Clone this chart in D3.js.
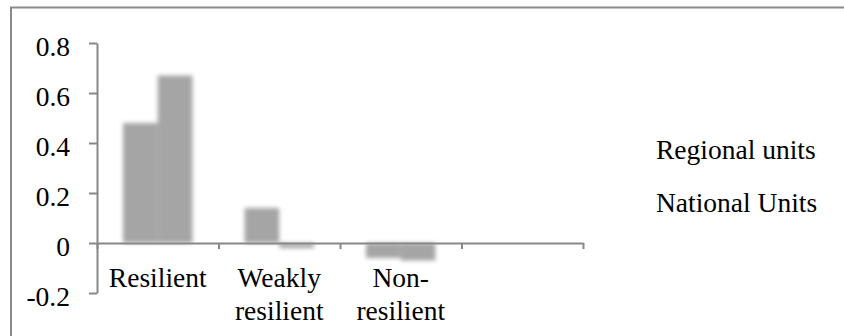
<!DOCTYPE html>
<html>
<head>
<meta charset="utf-8">
<script src="https://cdnjs.cloudflare.com/ajax/libs/d3/7.8.5/d3.min.js"></script>
<style>
  html, body { margin: 0; padding: 0; background: #fff; }
  svg { display: block; }
  text { font-family: "Liberation Serif", serif; fill: #000; }
</style>
</head>
<body>
<svg id="chart" width="844" height="336"></svg>
<script>
// Categories along the x axis (the last slot is left empty)
const categories = ["Resilient", "Weakly resilient", "Non-resilient", ""];
const categoryLines = [["Resilient"], ["Weakly", "resilient"], ["Non-", "resilient"], []];
// Series values
const seriesNames = ["Regional units", "National Units"];
const regionalUnits = [0.48, 0.14, -0.06, null];
const nationalUnits = [0.67, -0.02, -0.07, null];
// Value axis ticks
const yTicks = [-0.2, 0, 0.2, 0.4, 0.6, 0.8];
const yTickLabels = ["-0.2", "0", "0.2", "0.4", "0.6", "0.8"];

const svg = d3.select("#chart");
const axisColor = "#878787";
const barColor = "#a5a5a5";
const fontSize = 27.5;

// Soft-edged bars
const defs = svg.append("defs");
defs.append("filter")
  .attr("id", "soft")
  .attr("x", "-20%").attr("y", "-20%")
  .attr("width", "140%").attr("height", "140%")
  .append("feGaussianBlur")
  .attr("stdDeviation", 2.1);

// Chart frame
svg.append("rect")
  .attr("x", 11).attr("y", 7.5)
  .attr("width", 850).attr("height", 340)
  .attr("fill", "none")
  .attr("stroke", "#8a8a8a")
  .attr("stroke-width", 2);

const plot = { left: 97, right: 583, top: 43, bottom: 293 };

const y = d3.scaleLinear().domain([-0.2, 0.8]).range([plot.bottom, plot.top]);
const x = d3.scaleBand().domain(categories).range([plot.left, plot.right]).padding(0);

// Excel-style clustered bars: gap width 150%
const bw = x.bandwidth() / 3.5;
const series = [regionalUnits, nationalUnits];

const bars = svg.append("g").attr("filter", "url(#soft)");
series.forEach((vals, si) => {
  bars.selectAll(null)
    .data(categories.map((c, i) => ({ c, v: vals[i] })).filter(d => d.v !== null))
    .enter().append("rect")
    .attr("x", d => x(d.c) + 0.75 * bw + si * bw)
    .attr("width", bw)
    .attr("y", d => y(Math.max(0, d.v)))
    .attr("height", d => Math.abs(y(d.v) - y(0)))
    .attr("fill", barColor);
});

// Value axis
const yAxis = d3.axisLeft(y)
  .tickValues(yTicks)
  .tickFormat((d, i) => yTickLabels[i])
  .tickSize(8)
  .tickPadding(19)
  .tickSizeOuter(0);

const gy = svg.append("g")
  .attr("transform", `translate(${plot.left},0)`)
  .call(yAxis);
gy.attr("font-family", "Liberation Serif, serif");
gy.select(".domain").attr("stroke", axisColor).attr("stroke-width", 2);
gy.selectAll(".tick line").attr("stroke", axisColor).attr("stroke-width", 2);
gy.selectAll(".tick text")
  .attr("font-family", "Liberation Serif, serif")
  .attr("font-size", fontSize)
  .attr("fill", "#000")
  .attr("dy", "0.44em");

// Category axis at zero, tick marks on band boundaries
const xi = d3.scaleLinear().domain([0, categories.length]).range([plot.left, plot.right]);
const xAxis = d3.axisBottom(xi)
  .tickValues(d3.range(categories.length + 1))
  .tickFormat("")
  .tickSize(6)
  .tickSizeOuter(0);

const gx = svg.append("g")
  .attr("transform", `translate(0,${y(0)})`)
  .call(xAxis);
gx.select(".domain").attr("stroke", axisColor).attr("stroke-width", 2);
gx.selectAll(".tick line").attr("stroke", axisColor).attr("stroke-width", 2);

// Category labels
const labels = svg.append("g")
  .attr("font-size", fontSize)
  .attr("text-anchor", "middle");
categories.forEach((c, i) => {
  const t = labels.append("text")
    .attr("x", x(c) + x.bandwidth() / 2)
    .attr("y", 287);
  categoryLines[i].forEach((line, li) => {
    t.append("tspan")
      .attr("x", x(c) + x.bandwidth() / 2)
      .attr("dy", li === 0 ? 0 : 33)
      .text(line);
  });
});

// Legend
const legend = svg.append("g").attr("font-size", fontSize);
seriesNames.forEach((name, i) => {
  legend.append("text")
    .attr("x", 656)
    .attr("y", 159 + i * 53)
    .text(name);
});
</script>
</body>
</html>
